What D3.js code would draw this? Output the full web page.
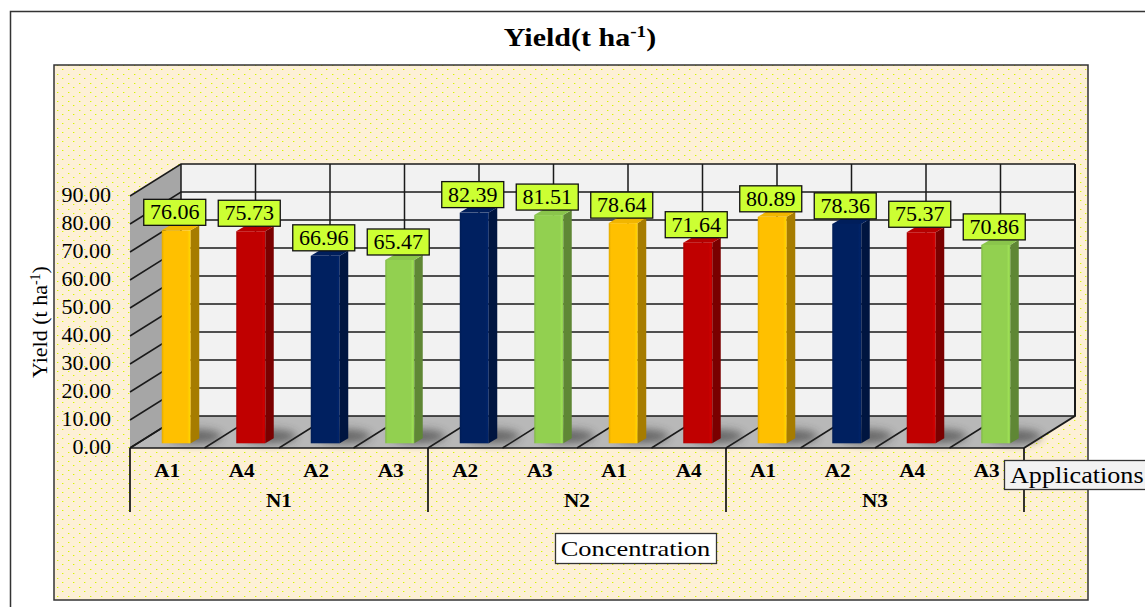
<!DOCTYPE html>
<html>
<head>
<meta charset="utf-8">
<script src="https://cdn.jsdelivr.net/npm/d3@7"></script>
<style>
  html, body { margin: 0; padding: 0; background: #fff; overflow: hidden; }
  svg { display: block; }
  text { font-family: "Liberation Serif", serif; fill: #000; }
  .axis path, .axis line { display: none; }
</style>
</head>
<body>
<svg id="chart" width="1145" height="607"></svg>
<script>
const groups = ["N1", "N2", "N3"];
const applications = ["A1", "A4", "A2", "A3", "A2", "A3", "A1", "A4", "A1", "A2", "A4", "A3"];
const yields = [76.06, 75.73, 66.96, 65.47, 82.39, 81.51, 78.64, 71.64, 80.89, 78.36, 75.37, 70.86];
const yTicks = [0, 10, 20, 30, 40, 50, 60, 70, 80, 90];
const faceColors = { A1: "#ffc000", A2: "#002060", A3: "#92d050", A4: "#c00000" };
const sideColors = { A1: "#a67c00", A2: "#001540", A3: "#5f8735", A4: "#7a0000" };

const svg = d3.select("#chart");
const defs = svg.append("defs");

// dotted chart background
const dots = defs.append("pattern")
  .attr("id", "dots").attr("width", 11).attr("height", 9)
  .attr("patternUnits", "userSpaceOnUse");
dots.append("rect").attr("width", 11).attr("height", 9).attr("fill", "#fdf0d6");
dots.append("rect").attr("x", 2).attr("y", 2).attr("width", 1).attr("height", 1).attr("fill", "#d6f500");
dots.append("rect").attr("x", 3).attr("y", 2).attr("width", 1).attr("height", 1).attr("fill", "#d6f500").attr("opacity", 0.35);
dots.append("rect").attr("x", 7).attr("y", 6).attr("width", 1).attr("height", 1).attr("fill", "#d6f500");
dots.append("rect").attr("x", 8).attr("y", 6).attr("width", 1).attr("height", 1).attr("fill", "#d6f500").attr("opacity", 0.35);

defs.append("filter").attr("id", "blur").attr("x", "-40%").attr("width", "180%")
  .attr("y", "-80%").attr("height", "260%")
  .append("feGaussianBlur").attr("stdDeviation", 4);

// small highlight along the edges of the front face
Object.keys(faceColors).forEach(k => {
  const g = defs.append("linearGradient").attr("id", "face" + k);
  const c = d3.color(faceColors[k]);
  g.append("stop").attr("offset", "0%").attr("stop-color", c.darker(0.35));
  g.append("stop").attr("offset", "8%").attr("stop-color", c);
  g.append("stop").attr("offset", "88%").attr("stop-color", c);
  g.append("stop").attr("offset", "96%").attr("stop-color", c.brighter(0.25));
  g.append("stop").attr("offset", "100%").attr("stop-color", c.darker(0.35));
});

const x = d3.scaleBand().domain(d3.range(applications.length)).range([130, 1024]);
const y = d3.scaleLinear().domain([0, 90]).range([448, 196]);
const depthX = 51, depthY = -32;
const barW = 29, barSide = 8.5, barRise = 5, barShift = 9, barLift = 4.7;

// page frame and chart area
svg.append("path").attr("d", "M10.5,607V11.5H1145").attr("fill", "none").attr("stroke", "#333").attr("stroke-width", 1.5);
svg.append("rect").attr("x", 54).attr("y", 65).attr("width", 1034).attr("height", 535)
  .attr("fill", "url(#dots)").attr("stroke", "#333").attr("stroke-width", 1.5);

const title = svg.append("text").attr("transform", "translate(580,46) scale(1.2,1)").attr("text-anchor", "middle")
  .attr("font-size", 25).attr("font-weight", "bold").text("Yield(t ha");
title.append("tspan").attr("dy", -9).attr("font-size", 16).text("-1");
title.append("tspan").attr("dy", 9).text(")");

// walls and floor
const x0 = x.range()[0], x1 = x.range()[1];
const wall = svg.append("g");
wall.append("polygon").attr("fill", "#a6a6a6")
  .attr("points", [[x0, y(90)], [x0 + depthX, y(90) + depthY], [x0 + depthX, y(0) + depthY], [x0, y(0)]].join(" "));
wall.append("rect").attr("x", x0 + depthX).attr("y", y(90) + depthY)
  .attr("width", x1 - x0).attr("height", y(0) - y(90)).attr("fill", "#f2f2f2");
wall.append("polygon").attr("fill", "#b8b8b8")
  .attr("points", [[x0, y(0)], [x1, y(0)], [x1 + depthX, y(0) + depthY], [x0 + depthX, y(0) + depthY]].join(" "));

const gridColor = "#1a1a1a";
yTicks.forEach(t => {
  wall.append("path")
    .attr("d", `M${x0},${y(t)}L${x0 + depthX},${y(t) + depthY}H${x1 + depthX}`)
    .attr("fill", "none").attr("stroke", gridColor).attr("stroke-width", 1.5);
});
d3.range(applications.length + 1).forEach(i => {
  const px = i < applications.length ? x(i) : x1;
  wall.append("path")
    .attr("d", `M${px},${y(0)}L${px + depthX},${y(0) + depthY}V${y(90) + depthY}`)
    .attr("fill", "none").attr("stroke", gridColor).attr("stroke-width", i === applications.length ? 2 : 1.5);
});

// bars
const bars = svg.append("g").selectAll("g").data(yields).join("g");
const barLeft = (d, i) => x(i) + (x.bandwidth() - barW) / 2 + barShift;
const base = y(0) - barLift;
const barTop = d => base - (y(0) - y(d));

bars.append("ellipse")
  .attr("cx", (d, i) => barLeft(d, i) + barW + 4).attr("cy", base - 7)
  .attr("rx", 27).attr("ry", 7).attr("fill", "#333").attr("opacity", 0.6)
  .attr("filter", "url(#blur)");
bars.append("polygon")
  .attr("fill", (d, i) => sideColors[applications[i]])
  .attr("points", (d, i) => {
    const r = barLeft(d, i) + barW;
    return [[r, barTop(d)], [r + barSide, barTop(d) - barRise], [r + barSide, base - barRise], [r, base]].join(" ");
  });
bars.append("polygon")
  .attr("fill", (d, i) => d3.color(faceColors[applications[i]]).darker(0.15))
  .attr("points", (d, i) => {
    const l = barLeft(d, i), r = l + barW;
    return [[l, barTop(d)], [l + barSide, barTop(d) - barRise], [r + barSide, barTop(d) - barRise], [r, barTop(d)]].join(" ");
  });
bars.append("rect")
  .attr("x", barLeft).attr("y", barTop)
  .attr("width", barW).attr("height", d => base - barTop(d))
  .attr("fill", (d, i) => `url(#face${applications[i]})`);

// value labels
const labels = svg.append("g").selectAll("g").data(yields).join("g");
labels.append("rect")
  .attr("x", (d, i) => barLeft(d, i) + barW / 2 - 32.5).attr("y", d => barTop(d) - 31)
  .attr("width", 62).attr("height", 26)
  .attr("fill", "#ccff33").attr("stroke", "#111").attr("stroke-width", 1.3);
labels.append("text")
  .attr("x", (d, i) => barLeft(d, i) + barW / 2 - 1.5).attr("y", d => barTop(d) - 11)
  .attr("text-anchor", "middle").attr("font-size", 22)
  .text(d => d.toFixed(2));

// y axis
const yAxis = svg.append("g").attr("class", "axis").attr("transform", "translate(118,0)")
  .call(d3.axisLeft(y).tickValues(yTicks).tickFormat(d3.format(".2f")).tickSize(0).tickPadding(7));
yAxis.selectAll("text").attr("font-size", 22).attr("dy", "0.26em")
  .style("font-family", "'Liberation Serif', serif");

svg.append("text").attr("transform", "translate(47,322) rotate(-90)")
  .attr("text-anchor", "middle").attr("font-size", 22)
  .call(t => {
    t.append("tspan").text("Yield (t ha");
    t.append("tspan").attr("dy", -7).attr("font-size", 14).text("-1");
    t.append("tspan").attr("dy", 7).text(")");
  });

// two level category axis
const xAxis = svg.append("g").attr("class", "axis").attr("transform", `translate(0,${y(0)})`)
  .call(d3.axisBottom(x).tickFormat(i => applications[i]).tickSize(0).tickPadding(16));
xAxis.selectAll("text").attr("font-size", 18).attr("font-weight", "bold")
  .attr("transform", "scale(1.18,1)")
  .style("font-family", "'Liberation Serif', serif");

const perGroup = applications.length / groups.length;
svg.append("line").attr("x1", x0).attr("x2", x1).attr("y1", y(0)).attr("y2", y(0))
  .attr("stroke", gridColor).attr("stroke-width", 1.5);
d3.range(groups.length + 1).forEach(g => {
  const px = g < groups.length ? x(g * perGroup) : x1;
  svg.append("line").attr("x1", px).attr("x2", px).attr("y1", y(0)).attr("y2", 512)
    .attr("stroke", "#111").attr("stroke-width", 1.7);
});
svg.append("g").selectAll("text").data(groups).join("text")
  .attr("transform", (d, g) => `translate(${x(g * perGroup) + x.bandwidth() * perGroup / 2},507) scale(1.18,1)`)
  .attr("text-anchor", "middle")
  .attr("font-size", 18).attr("font-weight", "bold").text(d => d);

// field buttons
svg.append("rect").attr("x", 1004.5).attr("y", 460.5).attr("width", 145).attr("height", 29)
  .attr("fill", "#f2f2f2").attr("stroke", "#333").attr("stroke-width", 1.3);
svg.append("text").attr("transform", "translate(1010,483) scale(1.137,1)").attr("font-size", 23).text("Applications");
svg.append("rect").attr("x", 555.5).attr("y", 533.5).attr("width", 161).attr("height", 30)
  .attr("fill", "#fff").attr("stroke", "#333").attr("stroke-width", 1.3);
svg.append("text").attr("transform", "translate(635.5,556) scale(1.2,1)").attr("text-anchor", "middle").attr("font-size", 22).text("Concentration");
</script>
</body>
</html>
